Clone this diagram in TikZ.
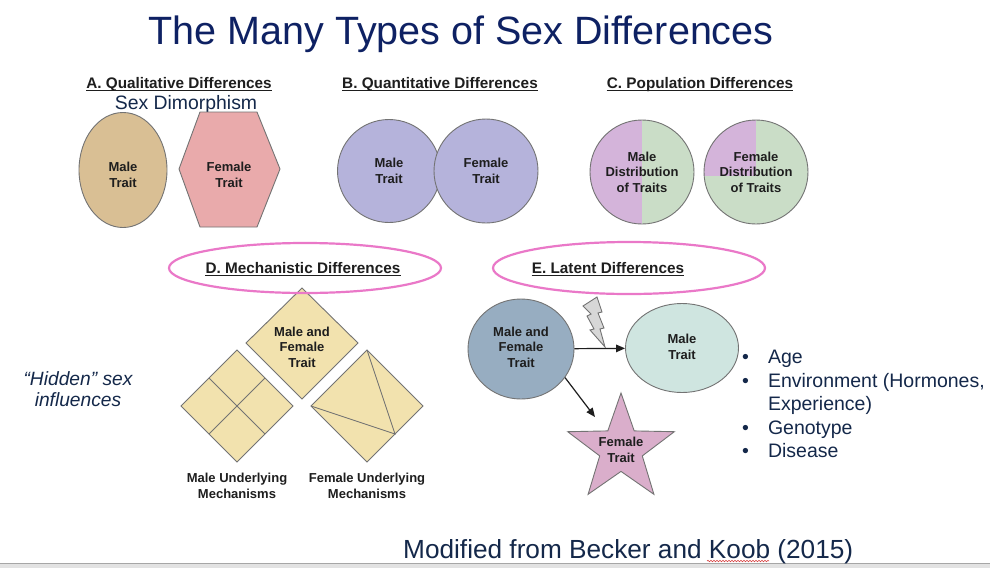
\documentclass[tikz,border=0pt]{standalone}
\usepackage{fontspec}
\setmainfont{Liberation Sans}
\usetikzlibrary{shapes.geometric,arrows.meta,decorations.pathmorphing}
\definecolor{navy}{HTML}{0E2163}
\definecolor{txt}{HTML}{14284A}
\definecolor{hd}{HTML}{1E1E1E}
\definecolor{edge}{HTML}{737373}
\definecolor{tanc}{HTML}{D9BF94}
\definecolor{rose}{HTML}{E9AAAB}
\definecolor{lav}{HTML}{B5B3DB}
\definecolor{purp}{HTML}{D4B4DA}
\definecolor{sage}{HTML}{CADDC7}
\definecolor{sand}{HTML}{F2E2AE}
\definecolor{steel}{HTML}{97ADC1}
\definecolor{mint}{HTML}{CFE5E0}
\definecolor{mauve}{HTML}{DAAECB}
\definecolor{pinkring}{HTML}{EA78C8}
\definecolor{boltc}{HTML}{D7D7D7}
\definecolor{barc}{HTML}{E2E2E2}
\definecolor{squig}{HTML}{D84040}
\newcommand\setfs[2]{\fontsize{#1}{#2}\selectfont}
\begin{document}
\begin{tikzpicture}[x=1pt,y=-1pt,
  lbl/.style={font=\setfs{13}{15.5}\bfseries, text=hd, align=center},
  head/.style={font=\setfs{15.3}{18}\bfseries, text=hd, anchor=base, inner sep=0pt},
  uline/.style={draw=hd, line width=1pt},
  shp/.style={draw=edge, line width=0.9pt},
  ring/.style={draw=pinkring, line width=2.2pt},
  arr/.style={draw=hd, line width=1.2pt, -{Triangle[length=9pt,width=7.5pt]}},
  body/.style={text=txt}]
\useasboundingbox (0,0) rectangle (990,568);
\fill[white] (0,0) rectangle (990,568);
% bottom strip
\fill[barc] (0,563) rectangle (990,568);
\draw[draw=gray!70, line width=0.6pt] (0,563) -- (990,563);

% title
\node[text=navy, font=\setfs{39.5}{44}, anchor=base, inner sep=0pt] (title) at (461,44) {The Many Types of Sex Differences};

% A
\node[head] (hA) at (179,88.5) {A. Qualitative Differences};
\draw[uline] ([yshift=-2pt]hA.base west) -- ([yshift=-2pt]hA.base east);
\node[text=txt, font=\setfs{19.4}{22}, anchor=base, inner sep=0pt] (dimo) at (186,109) {Sex Dimorphism};
\node[shp, ellipse, fill=tanc, minimum width=88pt, minimum height=115pt, inner sep=0pt] (aM) at (123,170) {};
\node[lbl] (aMt) at (123,175) {Male\\Trait};
\draw[shp, fill=rose] (200,112) -- (257,112) -- (280,169) -- (257,227) -- (200,227) -- (179,169) -- cycle;
\node[lbl] (aF) at (229,175) {Female\\Trait};

% B
\node[head] (hB) at (440,88.5) {B. Quantitative Differences};
\draw[uline] ([yshift=-2pt]hB.base west) -- ([yshift=-2pt]hB.base east);
\node[shp, circle, fill=lav, minimum size=103pt, inner sep=0pt] (bM) at (389,171) {};
\node[shp, circle, fill=lav, minimum size=104pt, inner sep=0pt] (bF) at (486,171) {};
\node[lbl] (bMt) at (389,171) {Male\\Trait};
\node[lbl] (bFt) at (486,171) {Female\\Trait};

% C
\node[head] (hC) at (700,88.5) {C. Population Differences};
\draw[uline] ([yshift=-2pt]hC.base west) -- ([yshift=-2pt]hC.base east);
\begin{scope}
  \clip (642,172) circle[radius=52pt];
  \fill[sage] (585,115) rectangle (700,230);
  \fill[purp] (585,115) rectangle (642,230);
\end{scope}
\begin{scope}
  \clip (756,172) circle[radius=52pt];
  \fill[sage] (700,115) rectangle (815,230);
  \fill[purp] (700,115) rectangle (756,176);
\end{scope}
\node[shp, circle, minimum size=104pt, inner sep=0pt] (cM) at (642,172) {};
\node[shp, circle, minimum size=104pt, inner sep=0pt] (cF) at (756,172) {};
\node[lbl] (cMt) at (642,172) {Male\\Distribution\\of Traits};
\node[lbl] (cFt) at (756,172) {Female\\Distribution\\of Traits};

% D
\draw[shp, fill=sand] (302,288) -- (358,343) -- (302,399) -- (246,343) -- cycle;
\node[lbl] (dT) at (302,347) {Male and\\Female\\Trait};
\draw[shp, fill=sand] (237,350) -- (293,406) -- (237,462) -- (181,406) -- cycle;
\draw[shp] (209,378) -- (265,434);
\draw[shp] (265,378) -- (209,434);
\draw[shp, fill=sand] (367,350) -- (423,406) -- (367,462) -- (311,406) -- cycle;
\draw[shp] (367,350) -- (395,434) -- (311,406);
\node[lbl] (dM) at (237,486) {Male Underlying\\Mechanisms};
\node[lbl] (dF) at (367,486) {Female Underlying\\Mechanisms};
\draw[ring] (305,268) ellipse[x radius=136pt, y radius=25pt];
\node[head] (hD) at (303,273) {D. Mechanistic Differences};
\draw[uline] ([yshift=-2pt]hD.base west) -- ([yshift=-2pt]hD.base east);

% hidden
\node[text=txt, font=\setfs{19.2}{21}\itshape, align=center] (hid) at (78,389) {“Hidden” sex\\influences};

% E
\draw[shp, fill=boltc] (583,306) -- (597,297) -- (602,312) -- (598,313) -- (604,328) -- (600,329) -- (605,347) -- (590,330) -- (594,329) -- (587,316) -- (591,314) -- cycle;
\node[shp, ellipse, fill=steel, minimum width=106pt, minimum height=100pt, inner sep=0pt] (eM) at (521,349) {};
\node[lbl] (eMt) at (521,347) {Male and\\Female\\Trait};
\node[shp, ellipse, fill=mint, minimum width=113pt, minimum height=89pt, inner sep=0pt] (eMale) at (682,348) {};
\node[lbl] (eMalet) at (682,347) {Male\\Trait};
\draw[shp, fill=mauve] (621,393) -- (634.2,430.9) -- (674.3,431.7) -- (642.3,455.9) -- (653.9,494.3) -- (621,471.4) -- (588.1,494.3) -- (599.7,455.9) -- (567.7,431.7) -- (607.8,430.9) -- cycle;
\node[lbl] (eF) at (621,450) {Female\\Trait};
\coordinate (starIn) at (595,417);
\draw[arr] (eM) -- (eMale);
\draw[arr] (eM.-33) -- (starIn);
\draw[ring] (629,268) ellipse[x radius=136pt, y radius=26pt];
\node[head] (hE) at (608,273) {E. Latent Differences};
\draw[uline] ([yshift=-2pt]hE.base west) -- ([yshift=-2pt]hE.base east);

% bullet list
\node[text=txt, font=\setfs{19.5}{23.5}, anchor=north west, inner sep=0pt] (list) at (742,347)
  {\begin{tabular}{@{}l@{\hspace{19pt}}l@{}}
   \textbullet & Age\\
   \textbullet & Environment (Hormones,\\
               & Experience)\\
   \textbullet & Genotype\\
   \textbullet & Disease
   \end{tabular}};

% footer
\node[text=txt, font=\setfs{26.2}{30}, anchor=base west, inner sep=0pt] (foot) at (403,558) {Modified from Becker and Koob (2015)};
\draw[squig, line width=0.6pt, decorate, decoration={snake, amplitude=0.7pt, segment length=3pt}] (707,561) -- (769,561);
\end{tikzpicture}
\end{document}
